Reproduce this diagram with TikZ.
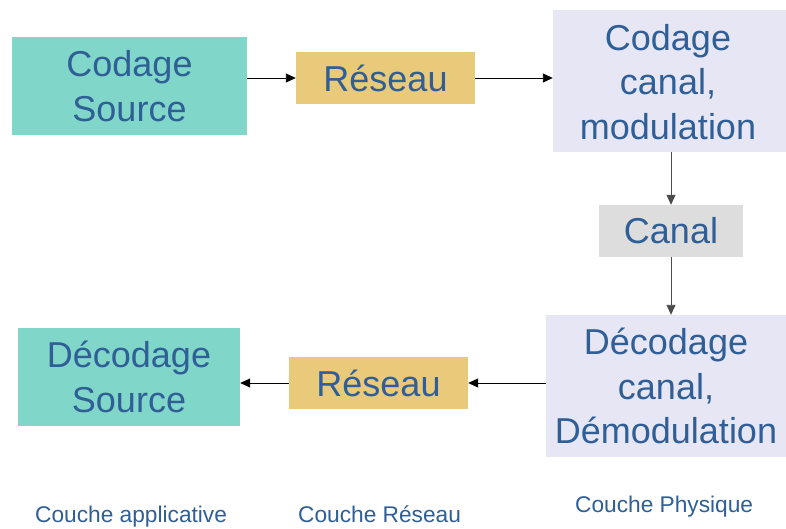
\documentclass[tikz,border=0pt]{standalone}
\usepackage{fontspec}
\setmainfont{Liberation Sans}
\usetikzlibrary{arrows.meta}
\definecolor{txtblue}{RGB}{47,95,150}
\definecolor{srcfill}{RGB}{128,214,200}
\definecolor{netfill}{RGB}{233,201,122}
\definecolor{phyfill}{RGB}{230,230,244}
\definecolor{chanfill}{RGB}{221,221,221}
\tikzset{
  blk/.style={inner sep=0pt, align=center, text=txtblue,
    font=\fontsize{36}{44.5}\selectfont},
  layer/.style={inner sep=0pt, anchor=base west, text=txtblue,
    font=\fontsize{22.7}{27}\selectfont},
  flow/.style={-{Triangle[length=10pt,width=9pt]}, line width=0.9pt},
  vflow/.style={flow, draw=black!70}
}
\begin{document}
\begin{tikzpicture}[x=1pt,y=-1pt]
\useasboundingbox[fill=white] (0,0) rectangle (786,529);
% boxes
\node[blk, fill=srcfill, minimum width=235pt, minimum height=98pt] (src) at (129.5,86) {Codage\\Source};
\node[blk, fill=netfill, minimum width=179pt, minimum height=52pt] (res1) at (385.5,78) {Réseau};
\node[blk, fill=phyfill, minimum width=233pt, minimum height=142pt] (cc) at (669.5,81) {};
\node[blk] (cctext) at (668,82) {Codage\\canal,\\modulation};
\node[blk, fill=chanfill, minimum width=144pt, minimum height=52pt] (canal) at (671,231) {Canal};
\node[blk, fill=phyfill, minimum width=240pt, minimum height=142pt] (dc) at (666,386) {Décodage\\canal,\\Démodulation};
\node[blk, fill=netfill, minimum width=179pt, minimum height=52pt] (res2) at (378.5,383) {Réseau};
\node[blk, fill=srcfill, minimum width=222pt, minimum height=98pt] (ds) at (129,377) {Décodage\\Source};
% connectors
\draw[flow] (src.east |- res1.west) -- (res1.west);
\draw[flow] (res1.east) -- (res1.east -| cc.west);
\draw[vflow] (cc.south -| canal.north) -- (canal.north);
\draw[vflow] (canal.south) -- (canal.south |- dc.north);
\draw[flow] (dc.west |- res2.east) -- (res2.east);
\draw[flow] (res2.west) -- (res2.west -| ds.east);
% layer labels
\node[layer] (l1) at (35,522) {Couche applicative};
\node[layer] (l2) at (298,522) {Couche Réseau};
\node[layer] (l3) at (575,512) {Couche Physique};
\end{tikzpicture}
\end{document}
